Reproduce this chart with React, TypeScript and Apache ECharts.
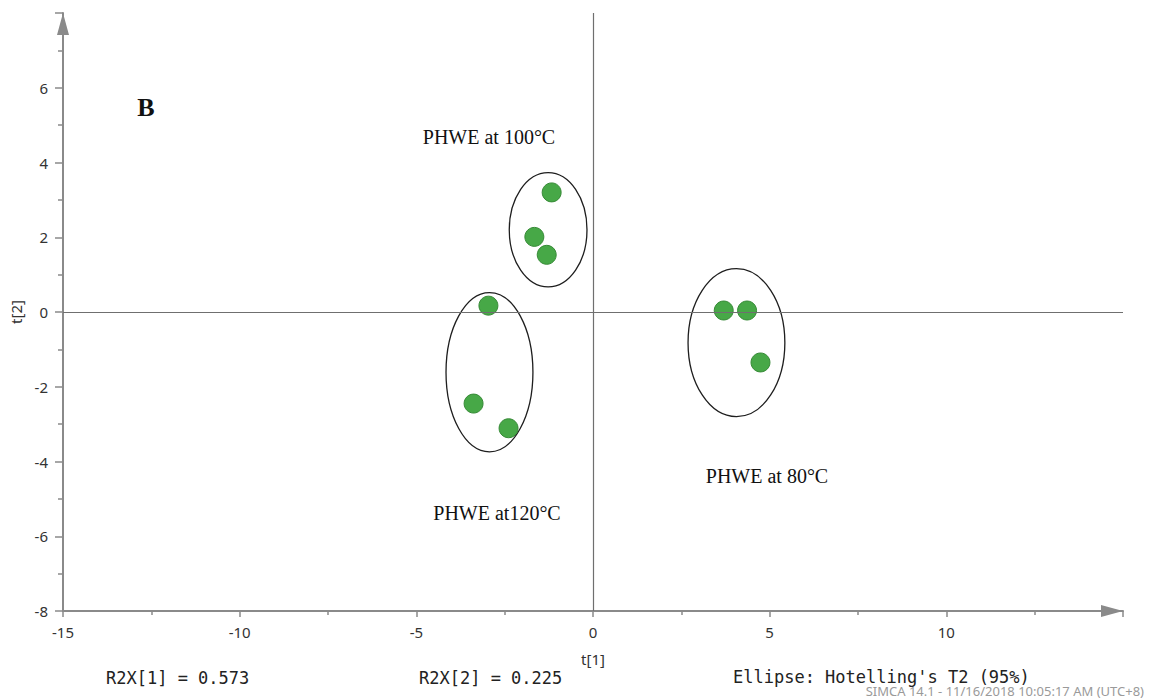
import { useEffect, useRef } from 'react';
import * as echarts from 'echarts';

// PCA score values (t[1], t[2]) for the nine extracts
const t1Scores = [-1.17, -1.66, -1.31, -2.96, -3.38, -2.39, 3.7, 4.36, 4.74];
const t2Scores = [3.2, 2.01, 1.53, 0.17, -2.45, -3.11, 0.04, 0.04, -1.35];

// Group ellipses: centre and semi-axes in score units
const ellipseCx = [-1.27, -2.93, 4.06];
const ellipseCy = [2.2, -1.61, -0.82];
const ellipseRx = [1.1, 1.23, 1.37];
const ellipseRy = [1.53, 2.13, 1.98];

const groupLabels = ['PHWE at 100°C', 'PHWE at120°C', 'PHWE at 80°C'];
const footerTexts = ['R2X[1] = 0.573', 'R2X[2] = 0.225', "Ellipse: Hotelling's T2 (95%)"];
const stampText = 'SIMCA 14.1 - 11/16/2018 10:05:17 AM (UTC+8)';

const AXIS_GRAY = '#8a8a8a';
const LABEL_COLOR = '#333333';
const SANS = '"Noto Sans", "DejaVu Sans", sans-serif';
const SERIF = '"Liberation Serif", "DejaVu Serif", serif';
const MONO = '"DejaVu Sans Mono", "Liberation Mono", monospace';

export default function App() {
  const ref = useRef<HTMLDivElement>(null);

  useEffect(() => {
    if (!ref.current) return;
    const chart = echarts.init(ref.current, undefined, { renderer: 'svg' });

    const points = t1Scores.map((x, i) => [x, t2Scores[i]]);
    const ellipses = ellipseCx.map((cx, i) => [cx, ellipseCy[i], ellipseRx[i], ellipseRy[i]]);

    const axisLine = {
      show: true,
      onZero: false,
      symbol: ['none', 'triangle'],
      symbolSize: [12, 22],
      symbolOffset: [0, -11],
      lineStyle: { color: AXIS_GRAY, width: 2 },
    };

    chart.setOption({
      animation: false,
      backgroundColor: '#ffffff',
      grid: { left: 62, right: 26, top: 13, bottom: 89 },
      xAxis: {
        type: 'value',
        min: -15,
        max: 15,
        interval: 5,
        name: 't[1]',
        nameLocation: 'middle',
        nameGap: 40,
        nameTextStyle: { color: LABEL_COLOR, fontSize: 15, fontFamily: SANS },
        axisLine,
        splitLine: { show: false },
        axisTick: { show: true, length: 6, lineStyle: { color: AXIS_GRAY, width: 1.5 } },
        minorTick: { show: true, splitNumber: 2, length: 4, lineStyle: { color: AXIS_GRAY, width: 1.5 } },
        axisLabel: {
          color: LABEL_COLOR,
          fontSize: 15,
          fontFamily: SANS,
          margin: 13,
          showMaxLabel: false,
          formatter: (v: number) => (v === 15 ? '' : String(v)),
        },
      },
      yAxis: {
        type: 'value',
        min: -8,
        max: 8,
        interval: 2,
        name: 't[2]',
        nameLocation: 'middle',
        nameGap: 40,
        nameTextStyle: { color: LABEL_COLOR, fontSize: 15, fontFamily: SANS },
        axisLine,
        splitLine: { show: false },
        axisTick: { show: true, length: 8, lineStyle: { color: AXIS_GRAY, width: 1.5 } },
        minorTick: { show: true, splitNumber: 2, length: 5, lineStyle: { color: AXIS_GRAY, width: 1.5 } },
        axisLabel: {
          color: LABEL_COLOR,
          fontSize: 15,
          fontFamily: SANS,
          margin: 15,
          showMaxLabel: false,
          formatter: (v: number) => (v === 8 ? '' : String(v)),
        },
      },
      series: [
        {
          type: 'custom',
          name: 'ellipses',
          silent: true,
          encode: { x: 0, y: 1 },
          data: ellipses,
          renderItem: (_params: any, api: any) => {
            const c = api.coord([api.value(0), api.value(1)]);
            const s = api.size([api.value(2), api.value(3)]);
            return {
              type: 'ellipse',
              shape: { cx: c[0], cy: c[1], rx: s[0], ry: s[1] },
              style: { fill: 'none', stroke: '#1e1e1e', lineWidth: 1.3 },
            };
          },
          z: 3,
        },
        {
          type: 'scatter',
          name: 'scores',
          data: points,
          symbol: 'circle',
          symbolSize: 19,
          itemStyle: { color: '#47a847', borderColor: '#368a36', borderWidth: 1, opacity: 1 },
          z: 4,
          markLine: {
            silent: true,
            symbol: ['none', 'none'],
            label: { show: false },
            lineStyle: { color: '#6f6f6f', width: 1.2, type: 'solid' },
            data: [{ xAxis: 0 }, { yAxis: 0 }],
          },
        },
      ],
      graphic: [
        {
          type: 'text',
          x: 146,
          y: 107,
          style: {
            text: 'B',
            fontSize: 26,
            fontWeight: 'bold',
            fontFamily: SERIF,
            fill: '#111',
            textAlign: 'center',
            textVerticalAlign: 'middle',
          },
        },
        ...[
          [489, 137],
          [497, 513],
          [767, 476],
        ].map(([x, y], i) => ({
          type: 'text',
          x,
          y,
          style: {
            text: groupLabels[i],
            fontSize: 20,
            fontFamily: SERIF,
            fill: '#111',
            textAlign: 'center',
            textVerticalAlign: 'middle',
          },
        })),
        ...[
          [106, 678],
          [419, 678],
          [733, 677],
        ].map(([x, y], i) => ({
          type: 'text',
          x,
          y,
          style: {
            text: footerTexts[i],
            fontSize: 17,
            fontFamily: MONO,
            fill: '#222',
            textAlign: 'left',
            textVerticalAlign: 'middle',
          },
        })),
        {
          type: 'text',
          x: 1144,
          y: 691,
          style: {
            text: stampText,
            fontSize: 13,
            fontFamily: SANS,
            fill: '#9a9a9a',
            textAlign: 'right',
            textVerticalAlign: 'middle',
          },
        },
      ],
    });

    return () => chart.dispose();
  }, []);

  return (
    <div
      ref={ref}
      style={{ position: 'absolute', left: 0, top: 0, width: 1149, height: 700 }}
    />
  );
}
